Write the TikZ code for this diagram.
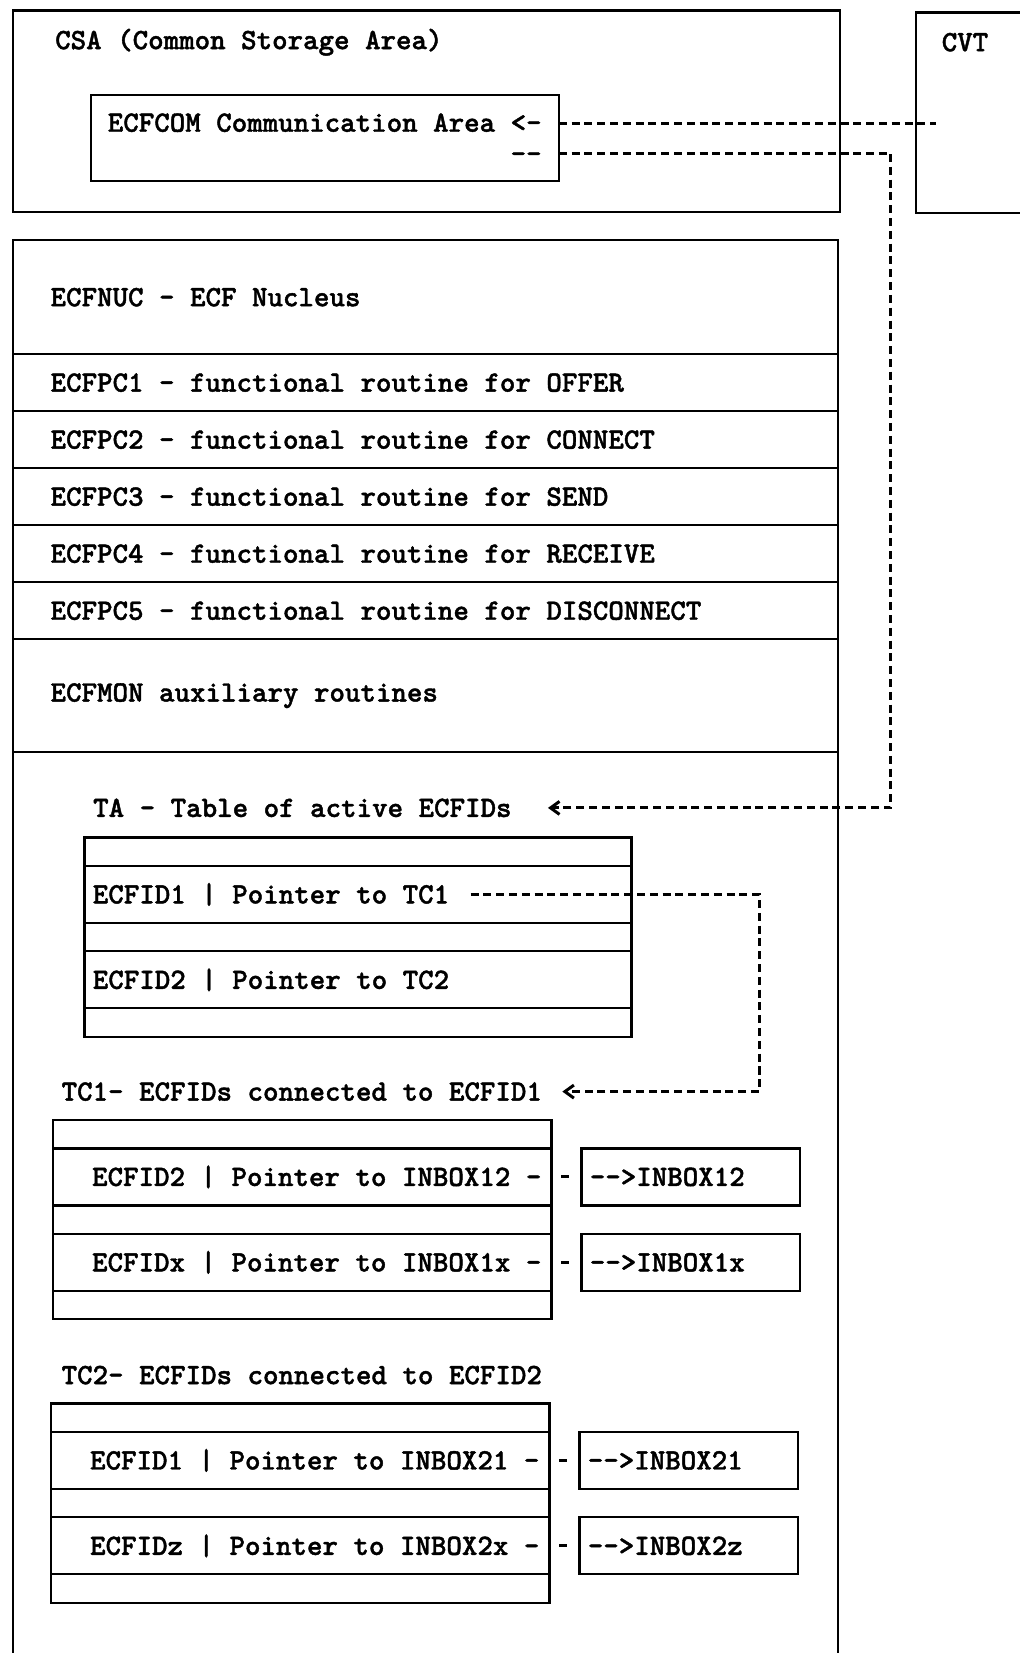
\documentclass[tikz,border=0pt]{standalone}
\usepackage{fontspec}
\usepackage{tikz}
\usetikzlibrary{arrows.meta, positioning, calc}
\newfontfamily\typer{lmmonolt10-bold.otf}[FakeBold=1.4, WordSpace={1,0,0}]
\tikzset{
  txt/.style={font=\fontsize{14.75pt}{15.5pt}\typer, inner sep=0pt,
              execute at begin node={\spaceskip=\fontdimen2\font
                                     \xspaceskip=\fontdimen2\font}},
  area/.style={rectangle, draw, line width=1.1pt, inner sep=0pt,
               outer sep=0pt},
  mod/.style={area, txt, minimum width=412.6pt, text width=374.6pt,
              inner xsep=19pt, align=left},
  slot/.style={area, minimum height=14.2pt},
  taent/.style={area, txt, minimum height=28.5pt, text width=265pt,
                inner xsep=4.2pt, align=left},
  tcent/.style={area, txt, minimum height=28.5pt, text width=239.3pt,
                inner xsep=5pt, align=right},
  inbox/.style={area, txt, minimum height=28.5pt, text width=100.7pt,
                inner xsep=4.2pt, align=left},
  link/.style={line width=1.5pt, dash pattern=on 4pt off 2.4pt},
  ptr/.style={link, -{Straight Barb[length=4.5pt, width=6.5pt]}},
  stub/.style={line width=1.5pt, dash pattern=on 0pt off 5pt on 4pt off 20pt},
}

\begin{document}
\begin{tikzpicture}[node distance=0pt]
  \useasboundingbox (0pt,0pt) rectangle (509.5pt,-826.2pt);

  % CSA with the communication area, CVT beside it
  \node[area, minimum width=413.7pt, minimum height=100.6pt, anchor=north west]
    (csa) at (6.3pt,-5.3pt) {};
  \node[txt, anchor=west] (csatitle)
    at ([xshift=21.1pt, yshift=-15.8pt]csa.north west) {CSA (Common Storage Area)};
  \node[area, txt, minimum width=234pt, minimum height=43.2pt, align=right,
        anchor=north west] (ecfcom) at ([xshift=39pt, yshift=-42.1pt]csa.north west)
    {ECFCOM Communication Area <-\\-{}-};
  \node[area, minimum width=70pt, minimum height=100.1pt, anchor=north west]
    (cvt) at (457.9pt,-6.3pt) {};
  \node[txt, anchor=west] (cvttitle)
    at ([xshift=12.6pt, yshift=-14.8pt]cvt.north west) {CVT};

  % ECF modules
  \node[mod, minimum height=56.9pt, anchor=north west] (ecfnuc) at (6.3pt,-120.1pt)
    {ECFNUC - ECF Nucleus};
  \node[mod, minimum height=28.5pt, below=of ecfnuc] (pc1)
    {ECFPC1 - functional routine for OFFER};
  \node[mod, minimum height=28.5pt, below=of pc1] (pc2)
    {ECFPC2 - functional routine for CONNECT};
  \node[mod, minimum height=28.5pt, below=of pc2] (pc3)
    {ECFPC3 - functional routine for SEND};
  \node[mod, minimum height=28.5pt, below=of pc3] (pc4)
    {ECFPC4 - functional routine for RECEIVE};
  \node[mod, minimum height=28.5pt, below=of pc4] (pc5)
    {ECFPC5 - functional routine for DISCONNECT};
  \node[mod, minimum height=56.4pt, below=of pc5] (ecfmon)
    {ECFMON auxiliary routines};
  \node[area, minimum width=412.6pt, minimum height=470pt, below=of ecfmon] (tables) {};

  % TA
  \node[txt, anchor=west] (talabel)
    at ([xshift=40.1pt, yshift=-27.9pt]tables.north west) {TA - Table of active ECFIDs};
  \node[slot, minimum width=273.4pt, anchor=north west] (ta0)
    at ([xshift=35.9pt, yshift=-42.7pt]tables.north west) {};
  \node[taent, below=of ta0] (ta1) {ECFID1 | Pointer to TC1};
  \node[slot, minimum width=273.4pt, below=of ta1] (ta2) {};
  \node[taent, below=of ta2] (ta3) {ECFID2 | Pointer to TC2};
  \node[slot, minimum width=273.4pt, below=of ta3] (ta4) {};

  % TC1
  \node[txt, anchor=west] (tc1label)
    at ([xshift=24.3pt, yshift=-169.7pt]tables.north west) {TC1- ECFIDs connected to ECFID1};
  \node[slot, minimum width=249.3pt, anchor=north west] (tc10)
    at ([xshift=20pt, yshift=-183.9pt]tables.north west) {};
  \node[tcent, below=of tc10] (tc11) {ECFID2 | Pointer to INBOX12 -};
  \node[slot, minimum width=249.3pt, below=of tc11] (tc12) {};
  \node[tcent, below=of tc12] (tc13) {ECFIDx | Pointer to INBOX1x -};
  \node[slot, minimum width=249.3pt, below=of tc13] (tc14) {};
  \node[inbox, right=15pt of tc11] (in12) {-{}->INBOX12};
  \node[inbox, right=15pt of tc13] (in1x) {-{}->INBOX1x};

  % TC2
  \node[txt, anchor=west] (tc2label)
    at ([xshift=24.3pt, yshift=-311.4pt]tables.north west) {TC2- ECFIDs connected to ECFID2};
  \node[slot, minimum width=249.3pt, anchor=north west] (tc20)
    at ([xshift=19pt, yshift=-325.6pt]tables.north west) {};
  \node[tcent, below=of tc20] (tc21) {ECFID1 | Pointer to INBOX21 -};
  \node[slot, minimum width=249.3pt, below=of tc21] (tc22) {};
  \node[tcent, below=of tc22] (tc23) {ECFIDz | Pointer to INBOX2x -};
  \node[slot, minimum width=249.3pt, below=of tc23] (tc24) {};
  \node[inbox, right=15pt of tc21] (in21) {-{}->INBOX21};
  \node[inbox, right=15pt of tc23] (in2z) {-{}->INBOX2z};

  % pointers
  \coordinate (comin) at ([yshift=7.5pt]ecfcom.east);
  \coordinate (comout) at ([yshift=-7.5pt]ecfcom.east);
  \draw[link] (comin) -- ([xshift=10pt]cvt.west |- comin);
  \coordinate (tatip) at ([xshift=18pt]talabel.east);
  \coordinate (tabend) at ([xshift=26.3pt]talabel -| tables.east);
  \draw[ptr] (comout) -| (tabend) -- (tatip);
  \coordinate (tc1from) at ([xshift=193pt]ta1.west);
  \coordinate (tc1tip) at ([xshift=10pt]tc1label.east);
  \coordinate (tc1bend) at ([xshift=64pt]tc1label -| ta1.east);
  \draw[ptr] (tc1from) -| (tc1bend) -- (tc1tip);
  \draw[stub] (tc11) -- (in12);
  \draw[stub] (tc13) -- (in1x);
  \draw[stub] (tc21) -- (in21);
  \draw[stub] (tc23) -- (in2z);
\end{tikzpicture}
\end{document}
